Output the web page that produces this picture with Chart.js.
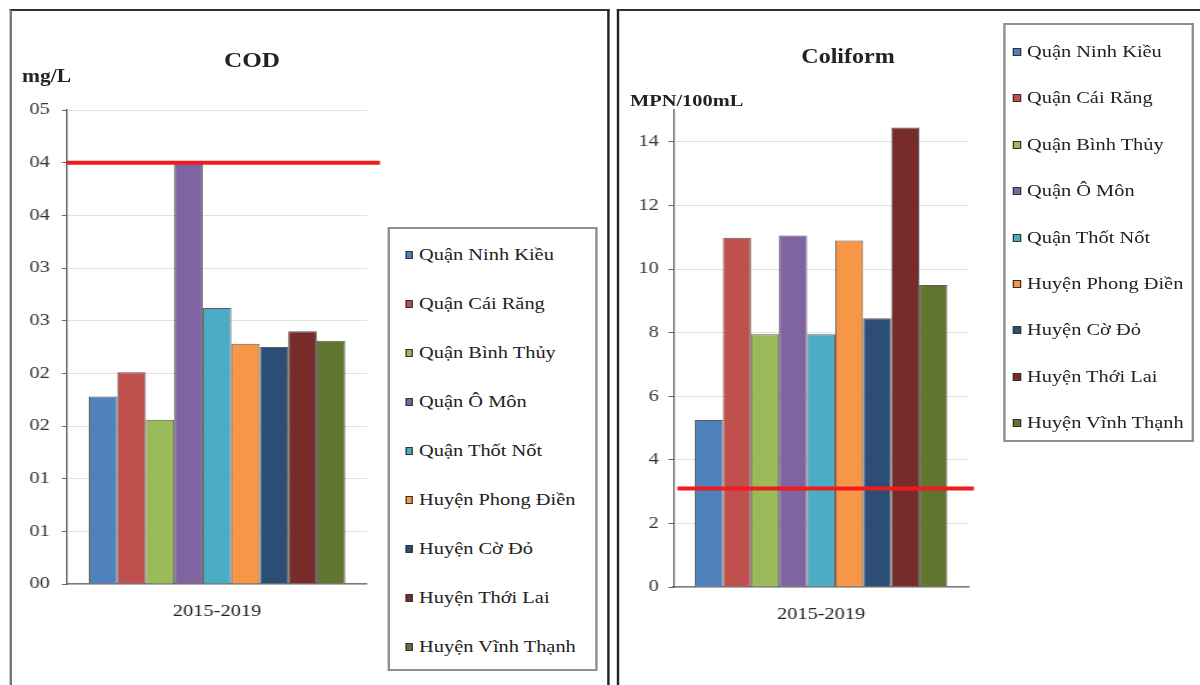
<!DOCTYPE html>
<html>
<head>
<meta charset="utf-8">
<script src="https://cdn.jsdelivr.net/npm/chart.js@4.4.1/dist/chart.umd.min.js"></script>
<style>
  html, body { margin: 0; padding: 0; background: #fff; overflow: hidden; }
  /* the whole figure is laid out 1000px wide and widened to 1200px */
  #page {
    position: absolute; left: 0; top: 0; width: 1000px; height: 685px;
    transform: scaleX(1.2); transform-origin: 0 0;
    font-family: "Liberation Serif", "Times New Roman", serif; color: #222;
  }
  .panel { position: absolute; top: 9px; height: 720px; box-sizing: border-box; border-top: 2.5px solid #333; }
  #panelCod { left: 7.5px; width: 500.8px; border-left: 2.5px solid #777; border-right: 2.5px solid #222; }
  #panelColi { left: 514.2px; width: 600px; border-left: 2.5px solid #222; }
  canvas { position: absolute; top: 0; }
  #codCanvas { left: 0; }
  #coliCanvas { left: 516.7px; }
  .title { position: absolute; width: 140px; text-align: center; font-weight: bold; font-size: 21px; line-height: 24px; }
  .unit { position: absolute; font-weight: bold; font-size: 18px; line-height: 22px; white-space: nowrap; }
  .legend { position: absolute; box-sizing: border-box; border: 2px solid #8f8f8f; background: #fff; }
  .legend .row { position: absolute; left: 0; right: 0; height: 22px; }
  .legend .mark { position: absolute; top: 7px; width: 6.7px; height: 8px; box-sizing: border-box; border: 1px solid #333; }
  .legend .txt { position: absolute; top: 0; font-size: 17px; line-height: 22px; white-space: nowrap; color: #222; }
</style>
</head>
<body>
<div id="page">
  <div class="panel" id="panelCod"></div>
  <div class="panel" id="panelColi"></div>

  <canvas id="codCanvas" width="320" height="685"></canvas>
  <canvas id="coliCanvas" width="317" height="685"></canvas>

  <div class="title" style="left:140px; top:48px;">COD</div>
  <div class="unit" style="left:18.3px; top:65px;">mg/L</div>

  <div class="title" style="left:636.7px; top:44px; font-size:20px;">Coliform</div>
  <div class="unit" style="left:525px; top:90px; font-size:17px;">MPN/100mL</div>

  <div class="legend" id="codLegend" style="left:322.5px; top:227px; width:175.8px; height:444px;"></div>
  <div class="legend" id="coliLegend" style="left:835.8px; top:23px; width:159.2px; height:419px;"></div>
</div>

<script>
// Districts of Can Tho and their bar colours
const districts = [
  'Quận Ninh Kiều', 'Quận Cái Răng', 'Quận Bình Thủy', 'Quận Ô Môn', 'Quận Thốt Nốt',
  'Huyện Phong Điền', 'Huyện Cờ Đỏ', 'Huyện Thới Lai', 'Huyện Vĩnh Thạnh'
];
const districtColors = [
  '#4F81BD', '#C0504D', '#9BBB59', '#8064A2', '#4BACC6',
  '#F79646', '#2C4D75', '#772C2A', '#5F7530'
];
const periods = ['2015-2019'];

// Mean values per district, 2015-2019
const codValues = [1.78, 2.01, 1.56, 4.00, 2.62, 2.28, 2.25, 2.40, 2.31];       // mg/L
const coliformValues = [5.25, 10.98, 7.95, 11.05, 7.95, 10.9, 8.45, 14.45, 9.5]; // MPN/100mL

// Permitted limits (red lines)
const codLimit = 4.0;
const coliformLimit = 3.1;

// Y-axis tick labels
const codTickLabels = ['00', '01', '01', '02', '02', '03', '03', '04', '04', '05'];
const coliformTickLabels = ['0', '2', '4', '6', '8', '10', '12', '14'];

Chart.defaults.font.family = "'Liberation Serif', 'Times New Roman', serif";
Chart.defaults.color = '#333';

// Horizontal limit line drawn over the bars
const limitLine = {
  id: 'limitLine',
  afterDatasetsDraw(chart, args, opts) {
    const y = chart.scales.y.getPixelForValue(opts.value);
    const { left, right } = chart.chartArea;
    const ctx = chart.ctx;
    ctx.save();
    ctx.strokeStyle = opts.color;
    ctx.lineWidth = opts.width;
    ctx.beginPath();
    ctx.moveTo(left + opts.startOffset, y);
    ctx.lineTo(right + opts.endOffset, y);
    ctx.stroke();
    ctx.restore();
  }
};

function makeDatasets(values) {
  return districts.map((name, i) => ({
    label: name,
    data: [values[i]],
    backgroundColor: districtColors[i],
    borderColor: 'rgba(35,35,35,0.75)',
    borderWidth: 1,
    categoryPercentage: 0.855,
    barPercentage: 1
  }));
}

function makeChart(canvasId, values, cfg) {
  return new Chart(document.getElementById(canvasId), {
    type: 'bar',
    data: { labels: periods, datasets: makeDatasets(values) },
    plugins: [limitLine],
    options: {
      responsive: false,
      animation: false,
      devicePixelRatio: 1,
      layout: { padding: cfg.padding },
      plugins: {
        legend: { display: false },
        title: { display: false },
        tooltip: { enabled: false },
        limitLine: cfg.limit
      },
      scales: {
        x: {
          grid: { display: false, drawTicks: false },
          border: { display: true, color: '#7a7a7a', width: 1.5 },
          ticks: { padding: cfg.xPad, color: '#222', font: { size: 17 } },
          afterFit(scale) { scale.height = 50; }
        },
        y: {
          min: 0,
          max: cfg.max,
          grid: { color: '#e2e2e2', lineWidth: 1, tickLength: 4.2, tickColor: '#666' },
          border: { display: true, color: '#555', width: 1.2 },
          ticks: {
            stepSize: cfg.step,
            includeBounds: false,
            padding: cfg.yPad,
            color: '#333',
            font: { size: 17 },
            callback: (v, i) => cfg.tickLabels[i]
          },
          afterFit(scale) { scale.width = cfg.axisWidth; }
        }
      }
    }
  });
}

makeChart('codCanvas', codValues, {
  padding: { left: 0, top: 110, right: 14.2, bottom: 51 },
  max: 4.5, step: 0.5, tickLabels: codTickLabels,
  axisWidth: 55.8, yPad: 10, xPad: 17.5,
  limit: { value: codLimit, color: '#ee1c1c', width: 4, startOffset: 0, endOffset: 10.8 }
});

makeChart('coliCanvas', coliformValues, {
  padding: { left: 0, top: 110, right: 26.7, bottom: 48 },
  max: 15, step: 2, tickLabels: coliformTickLabels,
  axisWidth: 44.2, yPad: 8, xPad: 17,
  limit: { value: coliformLimit, color: '#ee1c1c', width: 4, startOffset: 3.3, endOffset: 4.2 }
});

// Legend boxes built from the same district names and colours
function buildLegend(id, firstCenter, spacing, markLeft, textLeft) {
  const box = document.getElementById(id);
  districts.forEach((name, i) => {
    const row = document.createElement('div');
    row.className = 'row';
    row.style.top = (firstCenter + i * spacing - 11 - 2) + 'px';
    const mark = document.createElement('div');
    mark.className = 'mark';
    mark.style.left = markLeft + 'px';
    mark.style.background = districtColors[i];
    const txt = document.createElement('div');
    txt.className = 'txt';
    txt.style.left = textLeft + 'px';
    txt.textContent = name;
    row.appendChild(mark);
    row.appendChild(txt);
    box.appendChild(row);
  });
}
buildLegend('codLegend', 28, 49, 13, 24.7);
buildLegend('coliLegend', 29, 46.4, 6.3, 18);
</script>
</body>
</html>
